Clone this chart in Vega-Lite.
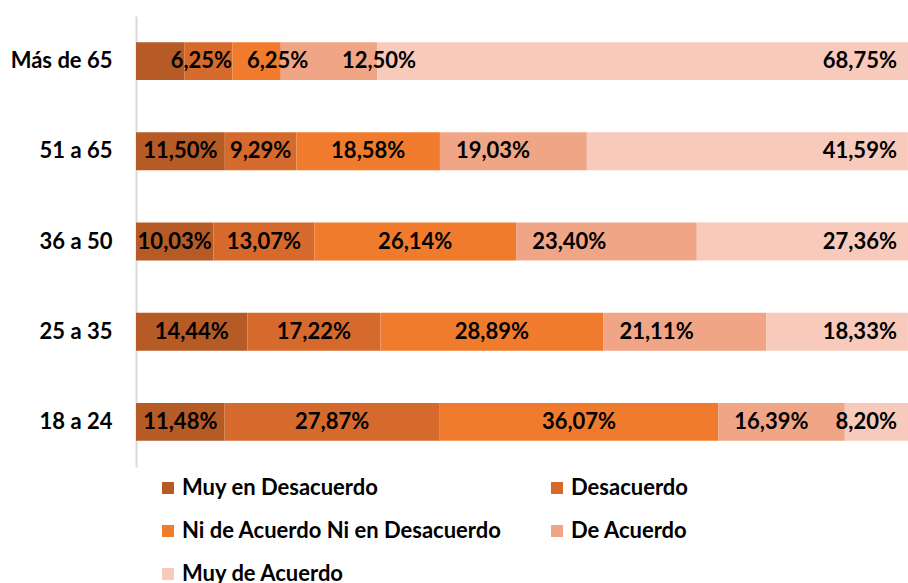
{
  "$schema": "https://vega.github.io/schema/vega-lite/v6.json",
  "width": 772,
  "height": 451,
  "autosize": "none",
  "padding": {"left": 136, "top": 16, "right": 0, "bottom": 116},
  "background": "white",
  "config": {"view": {"stroke": null}, "font": "Lato"},
  "data": {
    "values": [
      {"edad": "Más de 65", "respuesta": "Muy en Desacuerdo", "valor": 6.25},
      {"edad": "Más de 65", "respuesta": "Desacuerdo", "valor": 6.25},
      {"edad": "Más de 65", "respuesta": "Ni de Acuerdo Ni en Desacuerdo", "valor": 6.25},
      {"edad": "Más de 65", "respuesta": "De Acuerdo", "valor": 12.50},
      {"edad": "Más de 65", "respuesta": "Muy de Acuerdo", "valor": 68.75},
      {"edad": "51 a 65", "respuesta": "Muy en Desacuerdo", "valor": 11.50},
      {"edad": "51 a 65", "respuesta": "Desacuerdo", "valor": 9.29},
      {"edad": "51 a 65", "respuesta": "Ni de Acuerdo Ni en Desacuerdo", "valor": 18.58},
      {"edad": "51 a 65", "respuesta": "De Acuerdo", "valor": 19.03},
      {"edad": "51 a 65", "respuesta": "Muy de Acuerdo", "valor": 41.59},
      {"edad": "36 a 50", "respuesta": "Muy en Desacuerdo", "valor": 10.03},
      {"edad": "36 a 50", "respuesta": "Desacuerdo", "valor": 13.07},
      {"edad": "36 a 50", "respuesta": "Ni de Acuerdo Ni en Desacuerdo", "valor": 26.14},
      {"edad": "36 a 50", "respuesta": "De Acuerdo", "valor": 23.40},
      {"edad": "36 a 50", "respuesta": "Muy de Acuerdo", "valor": 27.36},
      {"edad": "25 a 35", "respuesta": "Muy en Desacuerdo", "valor": 14.44},
      {"edad": "25 a 35", "respuesta": "Desacuerdo", "valor": 17.22},
      {"edad": "25 a 35", "respuesta": "Ni de Acuerdo Ni en Desacuerdo", "valor": 28.89},
      {"edad": "25 a 35", "respuesta": "De Acuerdo", "valor": 21.11},
      {"edad": "25 a 35", "respuesta": "Muy de Acuerdo", "valor": 18.33},
      {"edad": "18 a 24", "respuesta": "Muy en Desacuerdo", "valor": 11.48},
      {"edad": "18 a 24", "respuesta": "Desacuerdo", "valor": 27.87},
      {"edad": "18 a 24", "respuesta": "Ni de Acuerdo Ni en Desacuerdo", "valor": 36.07},
      {"edad": "18 a 24", "respuesta": "De Acuerdo", "valor": 16.39},
      {"edad": "18 a 24", "respuesta": "Muy de Acuerdo", "valor": 8.20}
    ]
  },
  "transform": [
    {"calculate": "indexof(['Muy en Desacuerdo','Desacuerdo','Ni de Acuerdo Ni en Desacuerdo','De Acuerdo','Muy de Acuerdo'], datum.respuesta)", "as": "orden"},
    {"stack": "valor", "groupby": ["edad"], "sort": [{"field": "orden", "order": "ascending"}], "as": ["x0", "x1"]},
    {"calculate": "(datum.x0 + datum.x1) / 2", "as": "medio"},
    {"calculate": "replace(format(datum.valor, '.2f'), '.', ',') + '%'", "as": "etiqueta"}
  ],
  "encoding": {
    "y": {
      "field": "edad",
      "type": "nominal",
      "sort": ["Más de 65", "51 a 65", "36 a 50", "25 a 35", "18 a 24"],
      "scale": {"paddingInner": 0.58, "paddingOuter": 0.29},
      "axis": {
        "title": null,
        "ticks": false,
        "domainColor": "#D9D9D9",
        "domainWidth": 2,
        "labelFontSize": 22,
        "labelFontWeight": "bold",
        "labelColor": "#000000",
        "labelPadding": 24
      }
    }
  },
  "layer": [
    {
      "mark": {"type": "bar"},
      "encoding": {
        "x": {"field": "x0", "type": "quantitative", "scale": {"domain": [0, 100], "nice": false}, "axis": null},
        "x2": {"field": "x1"},
        "color": {
          "field": "respuesta",
          "type": "nominal",
          "sort": ["Muy en Desacuerdo", "Desacuerdo", "Ni de Acuerdo Ni en Desacuerdo", "De Acuerdo", "Muy de Acuerdo"],
          "scale": {
            "domain": ["Muy en Desacuerdo", "Desacuerdo", "Ni de Acuerdo Ni en Desacuerdo", "De Acuerdo", "Muy de Acuerdo"],
            "range": ["#B65A26", "#D66A2C", "#F07B2D", "#EFA586", "#F7CABB"]
          },
          "legend": {
            "title": null,
            "orient": "none",
            "legendX": 21,
            "legendY": 461,
            "direction": "horizontal",
            "columns": 2,
            "columnPadding": 44,
            "rowPadding": 21,
            "symbolType": "square",
            "symbolSize": 144,
            "symbolStrokeWidth": 0,
            "labelFontSize": 22,
            "labelFontWeight": "bold",
            "labelColor": "#000000",
            "labelOffset": 3,
            "labelLimit": 0
          }
        }
      }
    },
    {
      "transform": [{"filter": "datum.orden <= 2 && datum.edad != 'Más de 65'"}],
      "mark": {"type": "text", "align": "center", "baseline": "middle", "fontSize": 22, "fontWeight": "bold", "color": "#000000"},
      "encoding": {
        "x": {"field": "medio", "type": "quantitative"},
        "text": {"field": "etiqueta"}
      }
    },
    {
      "transform": [{"filter": "datum.orden == 3 && datum.edad != 'Más de 65'"}],
      "mark": {"type": "text", "align": "left", "baseline": "middle", "dx": 16, "fontSize": 22, "fontWeight": "bold", "color": "#000000"},
      "encoding": {
        "x": {"field": "x0", "type": "quantitative"},
        "text": {"field": "etiqueta"}
      }
    },
    {
      "transform": [{"filter": "datum.orden == 4"}],
      "mark": {"type": "text", "align": "right", "baseline": "middle", "dx": -11, "fontSize": 22, "fontWeight": "bold", "color": "#000000"},
      "encoding": {
        "x": {"field": "x1", "type": "quantitative"},
        "text": {"field": "etiqueta"}
      }
    },
    {
      "transform": [{"filter": "datum.edad == 'Más de 65' && datum.orden == 1"}],
      "mark": {"type": "text", "align": "center", "baseline": "middle", "dx": -7, "fontSize": 22, "fontWeight": "bold", "color": "#000000"},
      "encoding": {
        "x": {"field": "medio", "type": "quantitative"},
        "text": {"field": "etiqueta"}
      }
    },
    {
      "transform": [{"filter": "datum.edad == 'Más de 65' && datum.orden == 2"}],
      "mark": {"type": "text", "align": "center", "baseline": "middle", "dx": 21, "fontSize": 22, "fontWeight": "bold", "color": "#000000"},
      "encoding": {
        "x": {"field": "medio", "type": "quantitative"},
        "text": {"field": "etiqueta"}
      }
    },
    {
      "transform": [{"filter": "datum.edad == 'Más de 65' && datum.orden == 3"}],
      "mark": {"type": "text", "align": "center", "baseline": "middle", "dx": 50, "fontSize": 22, "fontWeight": "bold", "color": "#000000"},
      "encoding": {
        "x": {"field": "medio", "type": "quantitative"},
        "text": {"field": "etiqueta"}
      }
    }
  ]
}
